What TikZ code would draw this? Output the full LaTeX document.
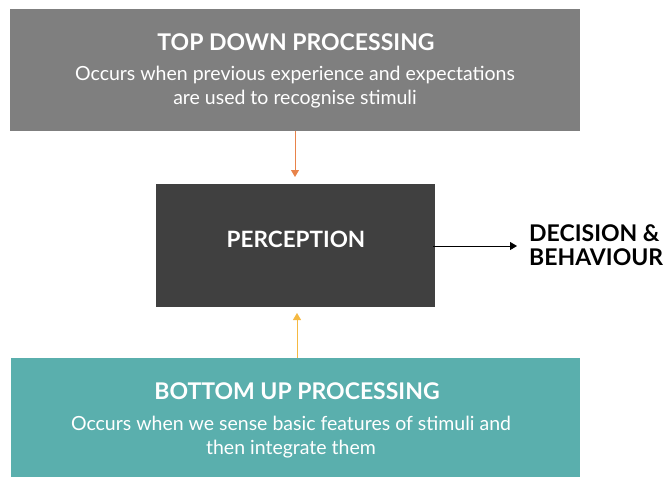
\documentclass[tikz,border=0pt]{standalone}
\usepackage{fontspec}
\setmainfont{Lato}
\usetikzlibrary{arrows.meta}
\definecolor{topgray}{HTML}{7F7F7F}
\definecolor{percgray}{HTML}{404040}
\definecolor{teal}{HTML}{5AAFAD}
\definecolor{downarrow}{HTML}{E8834A}
\definecolor{uparrow}{HTML}{F5B942}
\begin{document}
\begin{tikzpicture}[x=1pt,y=-1pt,
  panel/.style={inner sep=0pt, outer sep=0pt, text=white, align=center},
  heading/.style={font=\fontsize{23}{27}\selectfont\bfseries},
  body/.style={font=\fontsize{19.5}{24}\selectfont},
  link/.style={line width=0.9pt, -{Triangle[length=7pt,width=8pt]}}
]
\useasboundingbox (0,0) rectangle (665,477);
% process boxes
\node[panel, fill=topgray, minimum width=570pt, minimum height=122pt] (top) at (295,70) {};
\node[panel, fill=percgray, minimum width=279pt, minimum height=123pt] (perc) at (295.5,245.5) {};
\node[panel, fill=teal, minimum width=569pt, minimum height=120pt] (bot) at (295.5,418) {};
% box texts
\node[panel, heading] (toph) at (296,42) {TOP DOWN PROCESSING};
\node[panel, body] (topb) at (295,87) {Occurs when previous experience and expectations\\are used to recognise stimuli};
\node[panel, font=\fontsize{22.5}{26}\selectfont\bfseries] (perct) at (296,239) {PERCEPTION};
\node[panel, heading] (both) at (297,391) {BOTTOM UP PROCESSING};
\node[panel, body] (botb) at (291,437) {Occurs when we sense basic features of stimuli and\\then integrate them};
% outcome label
\node[inner sep=0pt, align=left, anchor=west, font=\fontsize{23}{24}\selectfont\bfseries] (dec) at (529,245) {DECISION \&\\BEHAVIOUR};
% connectors
\draw[link, draw=downarrow, fill=downarrow] (top.south -| 295,0) -- (295,177);
\draw[link, draw=uparrow, fill=uparrow] (bot.north -| 297,0) -- (297,313);
\coordinate (decin) at (517,246);
\draw[link, black] (433,246) -- (decin);
\end{tikzpicture}
\end{document}
